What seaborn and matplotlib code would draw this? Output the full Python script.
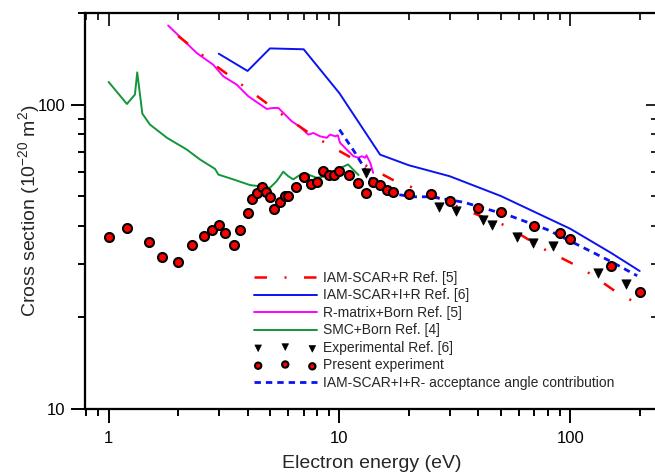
import matplotlib
matplotlib.use("Agg")
import matplotlib.pyplot as plt
import matplotlib.ticker as mticker
import numpy as np
import seaborn as sns

sns.set_style("white")
plt.rcParams["font.family"] = ["Liberation Sans", "DejaVu Sans"]
plt.rcParams["mathtext.fontset"] = "custom"
plt.rcParams["mathtext.rm"] = "Liberation Sans"
plt.rcParams["mathtext.it"] = "Liberation Sans:italic"

# IAM-SCAR+R Ref. [5]
scar_r_x = [2.0, 3.0, 4.1, 5.5, 7.7, 9.6, 11.3, 17.4, 24, 34.5, 53, 77, 114, 160, 187]
scar_r_y = [168, 132, 111, 94, 79, 71.6, 66.8, 56.1, 51.3, 45.3, 39.9, 33.5, 28.8, 24.1, 22.6]

# IAM-SCAR+I+R Ref. [6]
scar_ir_x = [3.0, 4.0, 5.0, 7.0, 10, 15, 20, 30, 50, 100, 150, 200]
scar_ir_y = [147, 129, 153, 152, 109, 68.5, 63.2, 58.2, 50.1, 39.1, 32.6, 28.4]

# R-matrix+Born Ref. [5]
rm_x = [1.81, 2.41, 2.84, 3.14, 3.59, 4.03, 4.84, 5.17, 5.44, 5.62, 6.21, 6.75, 7.33, 7.71,
        8.24, 8.81, 9.1, 9.6, 9.84, 10.06, 10.75, 11.5, 12.1, 12.5, 12.9, 13.1, 13.6, 14.0]
rm_y = [182, 147.7, 135.2, 123.8, 116.3, 106.5, 96.8, 97.5, 97.5, 95.1, 88.2, 84.5, 79.7, 80.7,
        78.7, 77.8, 79.7, 78.7, 79.3, 74.9, 71.2, 67.7, 66.9, 67.7, 66.9, 68.1, 64.4, 59.7]

# SMC+Born Ref. [4]
smc_x = [1.0, 1.2, 1.3, 1.33, 1.40, 1.51, 1.79, 2.18, 2.49, 2.89, 2.99, 3.47, 4.10, 4.45,
         5.0, 5.35, 5.71, 6.0, 6.31, 6.87, 7.33, 7.97, 8.81, 9.41, 10.9, 12.1]
smc_y = [118.7, 100.5, 107.9, 127.6, 93.4, 86, 77.8, 71.2, 66.0, 61.5, 58.9, 56.8, 54.4, 54.0,
         53.3, 56.1, 60.2, 58.2, 56.8, 59.3, 58.9, 57.5, 58.2, 60.4, 63.6, 58.7]

# Experimental Ref. [6]
exp_x = [13, 27, 32, 42, 46, 59, 69, 84, 132, 174]
exp_y = [59.7, 46.2, 44.7, 41.7, 40.1, 36.6, 35.2, 34.2, 27.9, 25.7]

# Present experiment
present_x = [1.0, 1.2, 1.5, 1.7, 2.0, 2.3, 2.6, 2.8, 3.0, 3.2, 3.5, 3.7, 4.0, 4.2, 4.4, 4.6,
             4.8, 5.0, 5.2, 5.5, 5.8, 6.0, 6.5, 7.0, 7.5, 8.0, 8.5, 9.0, 9.5, 10, 11, 12, 13,
             14, 15, 16, 17, 20, 25, 30, 40, 50, 70, 90, 100, 150, 200]
present_y = [36.8, 39.2, 35.4, 31.6, 30.5, 34.7, 37.1, 38.7, 40.3, 37.8, 34.5, 38.7, 44.2, 49.1,
             51.3, 53.7, 51.7, 49.6, 45.3, 47.8, 50.1, 50.1, 53.6, 57.8, 54.9, 55.6, 60.3, 58.6,
             58.6, 60.3, 58.6, 55.1, 51.1, 55.5, 54.4, 52.4, 51.6, 50.8, 50.8, 48.2, 45.8, 44.4,
             39.9, 37.8, 36.3, 29.4, 24.3]

# IAM-SCAR+I+R- acceptance angle contribution
accept_x = [10, 11.7, 13.6, 17.7, 20.9, 24.8, 34.5, 54.9, 79.2, 114, 149, 195]
accept_y = [82.8, 69.4, 57.5, 50.7, 49.8, 49.8, 47.8, 43.1, 38.9, 33.9, 30.6, 27.4]

labels = ["IAM-SCAR+R Ref. [5]", "IAM-SCAR+I+R Ref. [6]", "R-matrix+Born Ref. [5]",
          "SMC+Born Ref. [4]", "Experimental Ref. [6]", "Present experiment",
          "IAM-SCAR+I+R- acceptance angle contribution"]

XLIM = (0.79, 240)
YLIM = (10, 200)

fig = plt.figure(figsize=(6.55, 4.72), dpi=100)
ax = fig.add_axes([85 / 655, 63 / 472, 573 / 655, 396 / 472])


def line(x, y, color, lw, label, dashes=None, z=2):
    sns.lineplot(x=x, y=y, ax=ax, color=color, linewidth=lw, sort=False,
                 estimator=None, label=label, zorder=z)
    ln = ax.lines[-1]
    if dashes is not None:
        ln.set_dashes(dashes)
    return ln


h_smc = line(smc_x, smc_y, "#12963a", 1.4, labels[3])
h_rm = line(rm_x, rm_y, "#ff00ff", 1.4, labels[2])
h_ir = line(scar_ir_x, scar_ir_y, "#0a14f0", 1.4, labels[1])
h_r = line(scar_r_x, scar_r_y, "#ff0000", 1.8, labels[0], dashes=(5, 7, 0.8, 7), z=3)
h_acc = line(accept_x, accept_y, "#0a14f0", 2.0, labels[6], dashes=(2.3, 1.8), z=3)

sns.scatterplot(x=exp_x, y=exp_y, ax=ax, marker="v", color="black", s=45,
                edgecolor="black", linewidth=0.5, label=labels[4], zorder=4)
h_exp = ax.collections[-1]
sns.scatterplot(x=present_x, y=present_y, ax=ax, marker="o", color="#ff0000", s=42,
                edgecolor="black", linewidth=1.5, label=labels[5], zorder=5)
h_pres = ax.collections[-1]


def log_ticks(axis, majors):
    axis.set_ticks(majors)
    axis.set_minor_locator(mticker.LogLocator(base=10, subs=np.arange(2, 10)))
    axis.set_minor_formatter(mticker.NullFormatter())


ax.set_xscale("log")
ax.set_yscale("log")
ax.set_xlim(*XLIM)
ax.set_ylim(*YLIM)
log_ticks(ax.xaxis, [1, 10, 100])
log_ticks(ax.yaxis, [10, 100])
ax.set_xticklabels(["1", "10", "100"])
ax.set_yticklabels(["10", "100"])

ax.tick_params(axis="both", which="both", direction="out", colors="black",
               labelsize=12, width=1.4, top=False, right=False, bottom=True, left=True)
ax.tick_params(axis="both", which="major", length=10, pad=4)
ax.tick_params(axis="both", which="minor", length=5)
ax.tick_params(axis="x", which="major", pad=6)

# top and right ticks point inwards
ax_top = ax.twiny()
ax_top.set_xscale("log")
ax_top.set_xlim(*XLIM)
log_ticks(ax_top.xaxis, [1, 10, 100])
ax_top.tick_params(axis="x", which="both", direction="in", top=True, bottom=False,
                   labeltop=False, labelbottom=False, width=1.4)
ax_top.tick_params(axis="x", which="major", length=9)
ax_top.tick_params(axis="x", which="minor", length=5)

ax_right = ax.twinx()
ax_right.set_yscale("log")
ax_right.set_ylim(*YLIM)
log_ticks(ax_right.yaxis, [10, 100])
ax_right.tick_params(axis="y", which="both", direction="in", right=True, left=False,
                     labelright=False, labelleft=False, width=1.4)
ax_right.tick_params(axis="y", which="major", length=9)
ax_right.tick_params(axis="y", which="minor", length=5)

for a in (ax, ax_top, ax_right):
    for s in a.spines.values():
        s.set_linewidth(1.5)
        s.set_color("black")

ax.set_xlabel("Electron energy (eV)", fontsize=14, labelpad=6)
ax.set_ylabel("Cross section (10$^{\\mathregular{-20}}$ m$^{\\mathregular{2}}$)",
              fontsize=14, labelpad=-3)

handles = [h_r, h_ir, h_rm, h_smc, h_exp, h_pres, h_acc]
ax.legend(handles, labels, loc="upper left", bbox_to_anchor=(254 / 655, 1 - 271 / 472),
          bbox_transform=fig.transFigure, frameon=False, fontsize=10,
          handlelength=4.5, handletextpad=0.5, labelspacing=0.25, borderpad=0,
          borderaxespad=0, scatterpoints=3, markerscale=0.7)

fig.savefig("out.png", dpi=100)
